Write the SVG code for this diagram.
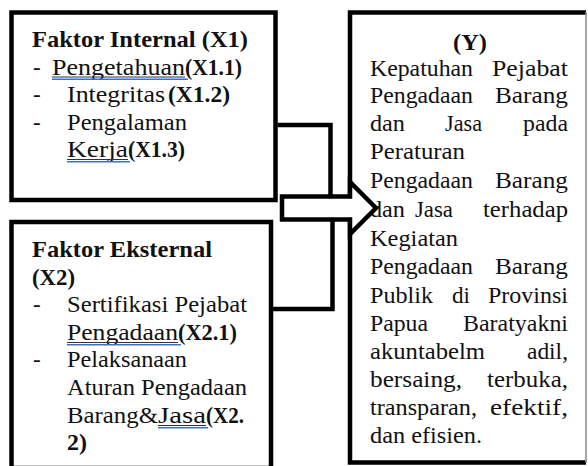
<svg xmlns="http://www.w3.org/2000/svg" width="588" height="466" viewBox="0 0 588 466">
<style>
.t{font-family:"Liberation Serif","Times New Roman",serif;font-size:23px;fill:#111}
.b{font-weight:bold}
.box{fill:#fff;stroke:#000;stroke-width:4.5}
.ln{fill:none;stroke:#000;stroke-width:4.5}
.ul{stroke:#333;stroke-width:1}
.sp{stroke:#3a6fd6;stroke-width:1.6}
</style>
<rect width="588" height="466" fill="#fff"/>
<g id="node-internal">
<rect class="box" x="11.5" y="12.5" width="264" height="187.5"/>
<text class="t b" x="32" y="47" textLength="216" lengthAdjust="spacingAndGlyphs">Faktor Internal (X1)</text>
<text class="t" x="33" y="75">-</text>
<text class="t" x="52" y="75" textLength="133" lengthAdjust="spacingAndGlyphs">Pengetahuan</text>
<text class="t b" x="185" y="75" textLength="57" lengthAdjust="spacingAndGlyphs">(X1.1)</text>
<line class="ul" x1="52" y1="77" x2="185" y2="77"/>
<line class="sp" x1="52" y1="79.2" x2="188" y2="79.2"/>
<text class="t" x="33" y="102">-</text>
<text class="t" x="67" y="102" textLength="98" lengthAdjust="spacingAndGlyphs">Integritas</text>
<text class="t b" x="168" y="102" textLength="62" lengthAdjust="spacingAndGlyphs">(X1.2)</text>
<text class="t" x="33" y="130">-</text>
<text class="t" x="67" y="130" textLength="120" lengthAdjust="spacingAndGlyphs">Pengalaman</text>
<text class="t" x="67" y="157" textLength="61" lengthAdjust="spacingAndGlyphs">Kerja</text>
<text class="t b" x="128" y="157" textLength="57" lengthAdjust="spacingAndGlyphs">(X1.3)</text>
<line class="ul" x1="67" y1="159.5" x2="128" y2="159.5"/>
<line class="sp" x1="67" y1="161.7" x2="130" y2="161.7"/>
</g>
<g id="node-external">
<rect class="box" x="11.5" y="222" width="259.5" height="246"/>
<text class="t b" x="32" y="257" textLength="180" lengthAdjust="spacingAndGlyphs">Faktor Eksternal</text>
<text class="t b" x="32" y="285" textLength="43" lengthAdjust="spacingAndGlyphs">(X2)</text>
<text class="t" x="33" y="312">-</text>
<text class="t" x="67" y="312" textLength="180" lengthAdjust="spacingAndGlyphs">Sertifikasi Pejabat</text>
<text class="t" x="67" y="340" textLength="111" lengthAdjust="spacingAndGlyphs">Pengadaan</text>
<text class="t b" x="178" y="340" textLength="59" lengthAdjust="spacingAndGlyphs">(X2.1)</text>
<line class="ul" x1="67" y1="342.5" x2="178" y2="342.5"/>
<line class="sp" x1="67" y1="344.7" x2="181" y2="344.7"/>
<text class="t" x="33" y="367">-</text>
<text class="t" x="67" y="367" textLength="120" lengthAdjust="spacingAndGlyphs">Pelaksanaan</text>
<text class="t" x="67" y="395" textLength="180" lengthAdjust="spacingAndGlyphs">Aturan Pengadaan</text>
<text class="t" x="67" y="423" textLength="91" lengthAdjust="spacingAndGlyphs">Barang&amp;</text>
<text class="t" x="158" y="423" textLength="48" lengthAdjust="spacingAndGlyphs">Jasa</text>
<text class="t b" x="206" y="423" textLength="38" lengthAdjust="spacingAndGlyphs">(X2.</text>
<line class="ul" x1="158" y1="425.5" x2="206" y2="425.5"/>
<line class="sp" x1="158" y1="427.7" x2="208" y2="427.7"/>
<text class="t b" x="67" y="450" textLength="20" lengthAdjust="spacingAndGlyphs">2)</text>
</g>
<g id="node-y">
<rect x="350" y="12.5" width="236" height="450" fill="#fff"/>
<path class="ln" d="M586,462.5 H350 V12.5 H586"/>
<line x1="586" y1="12" x2="586" y2="463" stroke="#888" stroke-width="1.5"/>
<text class="t b" x="470" y="50" text-anchor="middle" textLength="34" lengthAdjust="spacingAndGlyphs">(Y)</text>
<text class="t" x="370" y="76" textLength="103" lengthAdjust="spacingAndGlyphs">Kepatuhan</text>
<text class="t" x="492" y="76" textLength="76" lengthAdjust="spacingAndGlyphs">Pejabat</text>
<text class="t" x="370" y="103" textLength="103" lengthAdjust="spacingAndGlyphs">Pengadaan</text>
<text class="t" x="495" y="103" textLength="73" lengthAdjust="spacingAndGlyphs">Barang</text>
<text class="t" x="370" y="131" textLength="35" lengthAdjust="spacingAndGlyphs">dan</text>
<text class="t" x="445" y="131" textLength="37" lengthAdjust="spacingAndGlyphs">Jasa</text>
<text class="t" x="523" y="131" textLength="45" lengthAdjust="spacingAndGlyphs">pada</text>
<text class="t" x="370" y="159" textLength="95" lengthAdjust="spacingAndGlyphs">Peraturan</text>
<text class="t" x="370" y="188" textLength="103" lengthAdjust="spacingAndGlyphs">Pengadaan</text>
<text class="t" x="495" y="188" textLength="73" lengthAdjust="spacingAndGlyphs">Barang</text>
<text class="t" x="370" y="216.5" textLength="35" lengthAdjust="spacingAndGlyphs">dan</text>
<text class="t" x="415" y="216.5" textLength="38" lengthAdjust="spacingAndGlyphs">Jasa</text>
<text class="t" x="483" y="216.5" textLength="85" lengthAdjust="spacingAndGlyphs">terhadap</text>
<text class="t" x="370" y="246" textLength="88" lengthAdjust="spacingAndGlyphs">Kegiatan</text>
<text class="t" x="370" y="274" textLength="103" lengthAdjust="spacingAndGlyphs">Pengadaan</text>
<text class="t" x="495" y="274" textLength="73" lengthAdjust="spacingAndGlyphs">Barang</text>
<text class="t" x="370" y="302.5" textLength="63" lengthAdjust="spacingAndGlyphs">Publik</text>
<text class="t" x="452" y="302.5" textLength="18" lengthAdjust="spacingAndGlyphs">di</text>
<text class="t" x="488" y="302.5" textLength="80" lengthAdjust="spacingAndGlyphs">Provinsi</text>
<text class="t" x="370" y="330.5" textLength="58" lengthAdjust="spacingAndGlyphs">Papua</text>
<text class="t" x="463" y="330.5" textLength="105" lengthAdjust="spacingAndGlyphs">Baratyakni</text>
<text class="t" x="370" y="358.5" textLength="115" lengthAdjust="spacingAndGlyphs">akuntabelm</text>
<text class="t" x="527" y="358.5" textLength="41" lengthAdjust="spacingAndGlyphs">adil,</text>
<text class="t" x="370" y="386.5" textLength="92" lengthAdjust="spacingAndGlyphs">bersaing,</text>
<text class="t" x="487" y="386.5" textLength="81" lengthAdjust="spacingAndGlyphs">terbuka,</text>
<text class="t" x="370" y="415" textLength="107" lengthAdjust="spacingAndGlyphs">transparan,</text>
<text class="t" x="490" y="415" textLength="78" lengthAdjust="spacingAndGlyphs">efektif,</text>
<text class="t" x="370" y="443" textLength="112" lengthAdjust="spacingAndGlyphs">dan efisien.</text>
</g>
<g id="connectors">
<path class="ln" d="M277.5,125 H330.5 V205"/>
<path class="ln" d="M273,309 H332.5 V212"/>
<polygon id="arrow" points="282,196.5 350,196.5 350,182 376,208 350,234 350,219.5 282,219.5" fill="#fff" stroke="#000" stroke-width="4.5"/>
</g>
</svg>
